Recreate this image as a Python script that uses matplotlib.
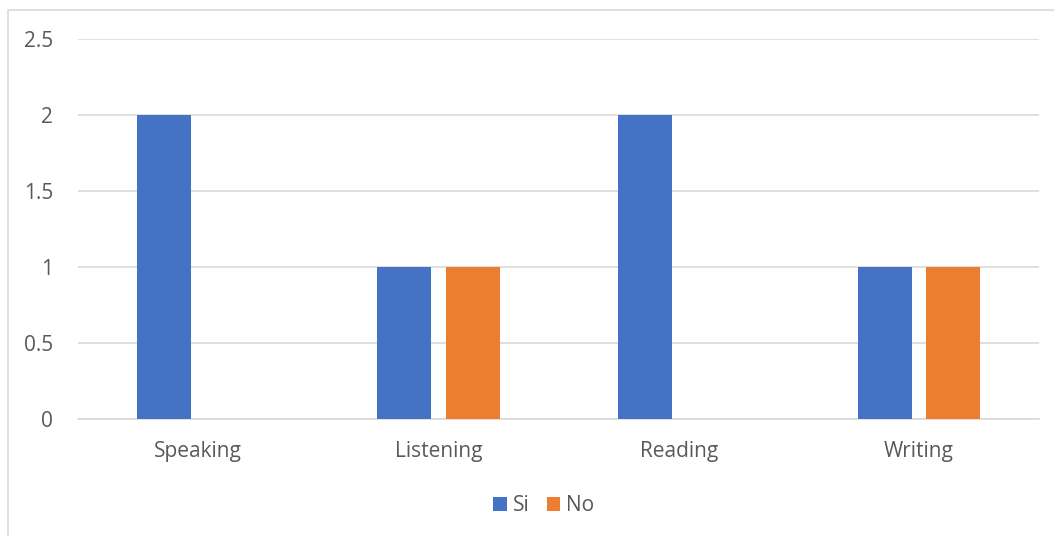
import numpy as np
import matplotlib.pyplot as plt
from matplotlib.patches import Rectangle

categories = ['Speaking', 'Listening', 'Reading', 'Writing']
si_values = [2, 1, 2, 1]
no_values = [0, 1, 0, 1]
yticks = [0, 0.5, 1, 1.5, 2, 2.5]
ytick_labels = ['0', '0.5', '1', '1.5', '2', '2.5']

plt.rcParams['font.family'] = ['Open Sans', 'DejaVu Sans']

fig = plt.figure(figsize=(10.54, 5.36), dpi=100)
ax = fig.add_axes([0.074, 0.2183, 0.9118, 0.7089])

x = np.arange(len(categories))
w = 0.225
ax.bar(x - 0.1417, si_values, w, color='#4472C4', label='Si', zorder=3)
ax.bar(x + 0.1437, no_values, w, color='#ED7D31', label='No', zorder=3)

ax.set_xlim(-0.5, len(categories) - 0.5)
ax.set_ylim(0, 2.5)
ax.set_yticks(yticks)
ax.set_yticklabels(ytick_labels)
ax.set_xticks(x)
ax.set_xticklabels(categories)
ax.yaxis.grid(True, color='#d9d9d9', linewidth=1.2, zorder=0)
for s in ['top', 'right', 'left']:
    ax.spines[s].set_visible(False)
ax.spines['bottom'].set_color('#d9d9d9')
ax.spines['bottom'].set_linewidth(1.2)
ax.tick_params(axis='both', length=0, colors='#595959', labelsize=15)
ax.tick_params(axis='y', pad=18)
ax.tick_params(axis='x', pad=16)

fig.legend(loc='center', bbox_to_anchor=(0.516, 0.056), ncol=2, frameon=False,
           fontsize=15, labelcolor='#595959', handlelength=0.65, handleheight=0.65,
           handletextpad=0.3, columnspacing=0.8)

fig.patches.append(Rectangle((8 / 1054, -0.1), 1.2, 1 - 10 / 536 + 0.1,
                             transform=fig.transFigure, fill=False,
                             edgecolor='#d9d9d9', linewidth=1.2))

fig.savefig('out.png', dpi=100)
